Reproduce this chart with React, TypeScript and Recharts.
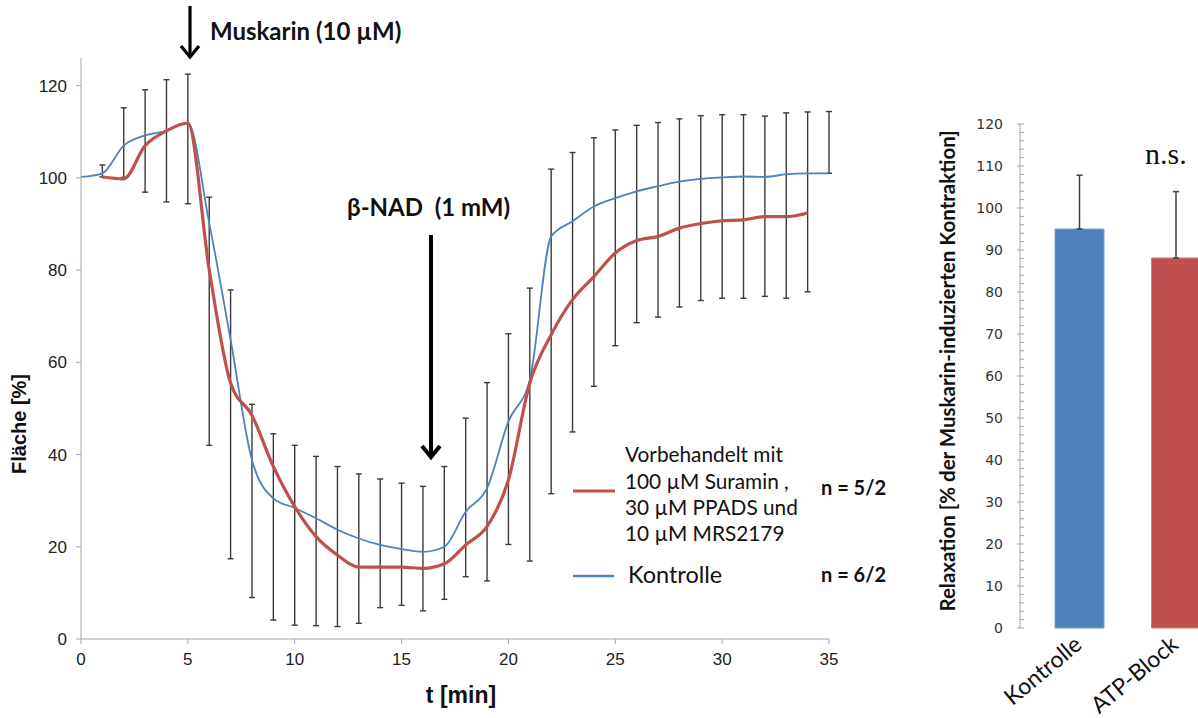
import React from 'react';
import {
  LineChart, Line, XAxis, YAxis, ErrorBar,
  BarChart, Bar, Cell
} from 'recharts';

// time course, one point per minute
const minutes = [0, 1, 2, 3, 4, 5, 6, 7, 8, 9, 10, 11, 12, 13, 14, 15, 16, 17, 18, 19, 20, 21, 22, 23, 24, 25, 26, 27, 28, 29, 30, 31, 32, 33, 34, 35];
const kontrolle = [100.2, 101.0, 107.0, 109.2, 110.2, 111.9, 90.2, 64.9, 38.8, 30.5, 28.4, 26.2, 23.7, 21.8, 20.4, 19.5, 18.9, 20.0, 27.6, 32.7, 47.2, 56.2, 87.3, 90.6, 93.8, 95.6, 97.1, 98.2, 99.2, 99.8, 100.1, 100.3, 100.2, 100.8, 101.0, 101.0];
const vorbehandelt = [null, 100.2, 99.8, 107.0, 110.2, 111.9, 80.1, 55.5, 48.5, 37.4, 28.7, 22.2, 18.2, 15.6, 15.6, 15.6, 15.3, 16.3, 20.4, 24.4, 34.5, 55.5, 66.0, 73.6, 78.6, 83.7, 86.4, 87.3, 89.1, 90.1, 90.7, 90.9, 91.6, 91.6, 92.4, null];
// error bar ends (lower end from treated group, upper end from control)
const errLow = [null, 100.2, 100.1, 96.9, 94.8, 94.4, 42.0, 17.4, 9.0, 4.1, 3.0, 2.9, 2.7, 3.4, 6.8, 7.3, 6.1, 8.6, 13.5, 12.6, 20.5, 16.9, 31.5, 44.9, 54.8, 63.6, 68.6, 69.8, 72.0, 73.4, 73.9, 73.9, 74.3, 73.9, 75.3, 101.0];
const errHigh = [null, 102.8, 115.2, 119.1, 121.3, 122.5, 95.8, 75.7, 50.9, 44.5, 42.0, 39.6, 37.4, 35.8, 34.7, 33.8, 33.1, 37.4, 47.9, 55.6, 66.2, 76.1, 101.9, 105.5, 108.7, 110.4, 111.4, 112.0, 112.8, 113.5, 113.7, 113.7, 113.4, 114.1, 114.3, 114.4];

const xTicks = [0, 5, 10, 15, 20, 25, 30, 35];
const yTicks = [0, 20, 40, 60, 80, 100, 120];

// summary bars
const barNames = ['Kontrolle', 'ATP-Block'];
const barMeans = [95.0, 88.1];
const barSem = [12.8, 15.8];
const barColors = ['#4f81bd', '#c0504d'];
const barEdges = ['#7aa0d0', '#d67a77'];
const barTicks = Array.from({ length: 61 }, (_, i) => i * 2);

const rows = minutes.map((t, i) => ({
  t,
  kontrolle: kontrolle[i],
  vorbehandelt: vorbehandelt[i],
  low: errLow[i],
  high: errHigh[i],
}));

const barRows = barNames.map((name, i) => ({ name, mean: barMeans[i], sem: barSem[i] }));

const calibri = 'Lato, "Open Sans", sans-serif';
const arial = '"Liberation Sans", Arial, sans-serif';

const BarYTick = (props: any) => {
  const { x, y, payload } = props;
  const major = payload.value % 10 === 0;
  return (
    <g>
      <line x1={major ? x - 3 : x} x2={x + 4} y1={y} y2={y} stroke="#a6a6a6" strokeWidth={1} />
      {major && (
        <text x={x - 17} y={y} dy="0.36em" textAnchor="end" fontFamily='"DejaVu Sans", Verdana, sans-serif' fontSize={14} fill="#333">
          {payload.value}
        </text>
      )}
    </g>
  );
};

const CatTick = (props: any) => {
  const { x, y, payload } = props;
  const ax = x + 4;
  const ay = y + 19;
  return (
    <text x={ax} y={ay} textAnchor="end" transform={`rotate(-40, ${ax}, ${ay})`} fontFamily={calibri} fontSize={23} fill="#111">
      {payload.value}
    </text>
  );
};

const TimeCourse = () => (
  <LineChart width={860} height={718} data={rows} margin={{ top: 58, right: 31, bottom: 49, left: 0 }}>
    <XAxis
      dataKey="t"
      type="number"
      domain={[0, 35]}
      ticks={xTicks}
      interval={0}
      height={30}
      stroke="#a6a6a6"
      tickSize={5}
      tickMargin={9}
      tick={{ fill: '#222', fontSize: 17, fontFamily: arial }}
      allowDataOverflow
    />
    <YAxis
      type="number"
      domain={[0, 126]}
      ticks={yTicks}
      interval={0}
      width={81}
      stroke="#a6a6a6"
      tickSize={5}
      tickMargin={9}
      tick={{ fill: '#222', fontSize: 17, fontFamily: arial }}
      allowDataOverflow
    />
    <Line type="monotone" dataKey="kontrolle" stroke="#4f81bd" strokeWidth={1.8} dot={false} isAnimationActive={false}>
      <ErrorBar
        dataKey={(d: any) => (d.low == null ? null : [d.kontrolle - d.low, d.high - d.kontrolle])}
        direction="y"
        width={3}
        stroke="#3a3a3a"
        strokeWidth={1.4}
        isAnimationActive={false}
      />
    </Line>
    <Line type="monotone" dataKey="vorbehandelt" stroke="#c0504d" strokeWidth={3.2} dot={false} isAnimationActive={false} />
  </LineChart>
);

const Relaxation = () => (
  <BarChart width={324} height={718} data={barRows} margin={{ top: 124, right: 0, bottom: 30, left: 0 }}>
    <XAxis dataKey="name" type="category" padding={{ left: 11, right: 0 }} height={60} axisLine={false} tickLine={false} tickSize={0} tickMargin={0} interval={0} tick={<CatTick />} />
    <YAxis type="number" domain={[0, 120]} ticks={barTicks} interval={0} width={120} stroke="#a6a6a6" tickLine={false} tickSize={0} tickMargin={0} tick={<BarYTick />} />
    <Bar dataKey="mean" barSize={49} isAnimationActive={false}>
      {barRows.map((r, i) => (
        <Cell key={r.name} fill={barColors[i]} stroke={barEdges[i]} strokeWidth={1} />
      ))}
      <ErrorBar dataKey={(d: any) => [0, d.sem]} direction="y" width={3} stroke="#404040" strokeWidth={1.5} isAnimationActive={false} />
    </Bar>
  </BarChart>
);

export default function App() {
  return (
    <div style={{ position: 'fixed', left: 0, top: 0, width: 1198, height: 718, overflow: 'hidden', background: '#fff' }}>
      <div style={{ position: 'absolute', left: 0, top: 0 }}>
        <TimeCourse />
      </div>
      <div style={{ position: 'absolute', left: 900, top: 0 }}>
        <Relaxation />
      </div>
      <svg width={1198} height={718} style={{ position: 'absolute', left: 0, top: 0, pointerEvents: 'none' }}>
        {/* Muskarin arrow */}
        <line x1={190} y1={6} x2={190} y2={55} stroke="#000" strokeWidth={3.2} />
        <polyline points="181,46 190,57 199,46" fill="none" stroke="#000" strokeWidth={3.2} />
        <text x={210} y={40} fontFamily={calibri} fontWeight={700} fontSize={24} fill="#111">Muskarin (10 µM)</text>

        {/* beta-NAD arrow */}
        <text x={347} y={216} fontFamily={calibri} fontWeight={700} fontSize={24} fill="#111" style={{ whiteSpace: 'pre' }}>β-NAD  (1 mM)</text>
        <line x1={431} y1={235} x2={431} y2={456} stroke="#000" strokeWidth={4} />
        <polyline points="422,446 431,457 440,446" fill="none" stroke="#000" strokeWidth={4} />

        {/* axis titles */}
        <text x={26} y={424} transform="rotate(-90, 26, 424)" textAnchor="middle" fontFamily={arial} fontWeight={700} fontSize={20} fill="#111">Fläche [%]</text>
        <text x={461} y={703} textAnchor="middle" fontFamily={arial} fontWeight={700} fontSize={23} fill="#111">t [min]</text>

        {/* legend */}
        <line x1={573} y1={491} x2={615} y2={491} stroke="#c0504d" strokeWidth={3} />
        <text fontFamily={calibri} fontSize={20.8} fill="#111">
          <tspan x={625} y={462}>Vorbehandelt mit</tspan>
          <tspan x={625} y={489}>100 µM Suramin ,</tspan>
          <tspan x={625} y={515}>30 µM PPADS und</tspan>
          <tspan x={625} y={541}>10 µM MRS2179</tspan>
        </text>
        <text x={821} y={495} fontFamily={calibri} fontWeight={700} fontSize={20} fill="#111">n = 5/2</text>
        <line x1={573} y1={576} x2={614} y2={576} stroke="#4f81bd" strokeWidth={2.5} />
        <text x={628} y={583} fontFamily={calibri} fontSize={23.5} fill="#111">Kontrolle</text>
        <text x={821} y={582} fontFamily={calibri} fontWeight={700} fontSize={20} fill="#111">n = 6/2</text>

        {/* bar chart labels */}
        <text x={955} y={371} transform="rotate(-90, 955, 371)" textAnchor="middle" fontFamily={calibri} fontWeight={700} fontSize={20.5} fill="#111">
          Relaxation [% der Muskarin-induzierten Kontraktion]
        </text>
        <text x={1145} y={164} fontFamily='"Liberation Serif", "Times New Roman", serif' fontSize={30} fill="#111">n.s.</text>
      </svg>
    </div>
  );
}
